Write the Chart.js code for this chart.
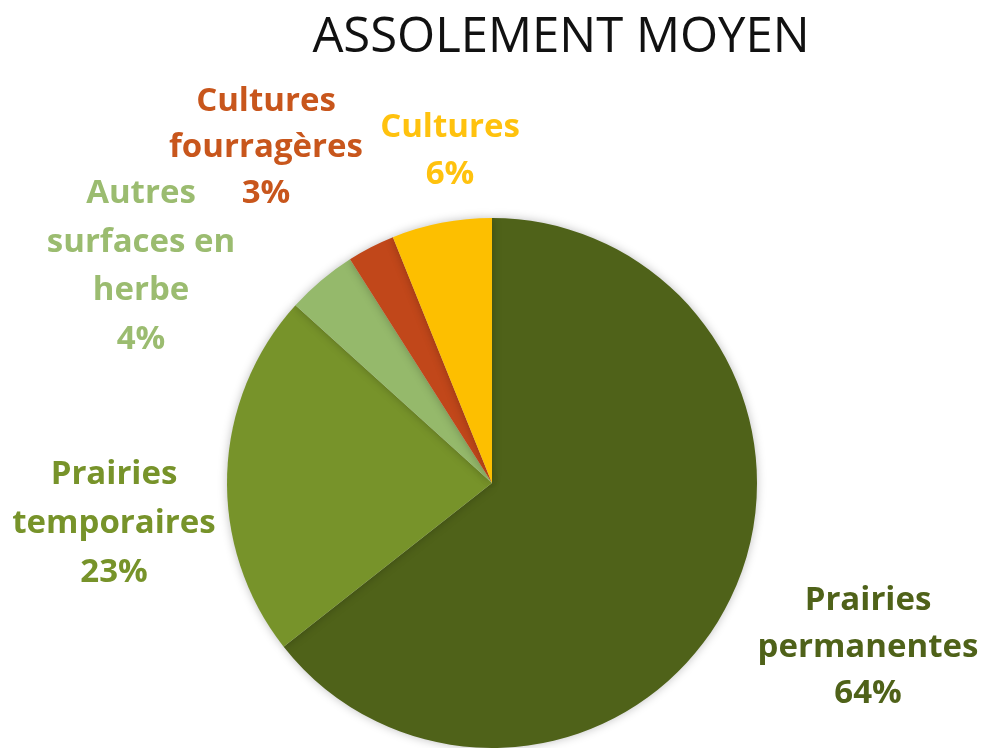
<!DOCTYPE html>
<html lang="fr">
<head>
<meta charset="utf-8">
<title>Assolement moyen</title>
<script src="https://cdn.jsdelivr.net/npm/chart.js@4.4.1/dist/chart.umd.min.js"></script>
<style>
  html, body { margin: 0; padding: 0; background: #ffffff; }
  #wrap { width: 986px; height: 748px; }
</style>
</head>
<body>
<div id="wrap"><canvas id="pie" width="986" height="748"></canvas></div>
<script>
// Données (parts de la SAU, en %)
const categories = ['Prairies permanentes', 'Prairies temporaires', 'Autres surfaces en herbe', 'Cultures fourragères', 'Cultures'];
const shares = [64.4, 22.3, 4.3, 2.9, 6.1];
const shownPct = ['64%', '23%', '4%', '3%', '6%'];
const sliceColors = ['#4f6219', '#77932a', '#95b96b', '#c1471a', '#fdbf00'];
const labelColors = ['#4f6219', '#77932a', '#9bbc70', '#c8561c', '#ffc20e'];
// lignes de texte de chaque étiquette
const labelLines = [
  ['Prairies', 'permanentes'],
  ['Prairies', 'temporaires'],
  ['Autres', 'surfaces en', 'herbe'],
  ['Cultures', 'fourragères'],
  ['Cultures']
];
// position (centre x, ligne de base de la 1re ligne) et interligne
const labelPos = [
  { x: 868, y: 610, lh: 46.5 },
  { x: 114, y: 484, lh: 49 },
  { x: 141, y: 203, lh: 48.5 },
  { x: 266, y: 111, lh: 46 },
  { x: 450, y: 137, lh: 47 }
];

const FONT = '"Open Sans", "Liberation Sans", sans-serif';

// titre + étiquettes dessinés à la main
const labelsPlugin = {
  id: 'labels',
  afterDraw(chart) {
    const ctx = chart.ctx;
    ctx.save();
    ctx.textAlign = 'center';
    ctx.textBaseline = 'alphabetic';
    ctx.fillStyle = '#111111';
    ctx.font = '400 49px ' + FONT;
    ctx.fillText('ASSOLEMENT MOYEN', 561, 52);

    ctx.font = '700 33px ' + FONT;
    categories.forEach(function (_c, i) {
      const p = labelPos[i];
      const lines = labelLines[i].concat([shownPct[i]]);
      ctx.fillStyle = labelColors[i];
      lines.forEach(function (t, k) {
        ctx.fillText(t, p.x, p.y + k * p.lh);
      });
    });
    ctx.restore();
  }
};

// ombre légère sous le camembert
const shadowPlugin = {
  id: 'pieShadow',
  beforeDatasetsDraw(chart) {
    const ctx = chart.ctx;
    ctx.save();
    ctx.shadowColor = 'rgba(0,0,0,0.25)';
    ctx.shadowBlur = 10;
    ctx.shadowOffsetX = 0;
    ctx.shadowOffsetY = 0;
  },
  afterDatasetsDraw(chart) {
    chart.ctx.restore();
  }
};

new Chart(document.getElementById('pie'), {
  type: 'pie',
  data: {
    labels: categories,
    datasets: [{
      data: shares,
      backgroundColor: sliceColors,
      borderWidth: 0
    }]
  },
  options: {
    responsive: false,
    animation: false,
    rotation: 0,
    layout: { padding: { top: 218, bottom: 0, left: 227, right: 229 } },
    plugins: {
      legend: { display: false },
      tooltip: { enabled: false },
      title: { display: false }
    }
  },
  plugins: [shadowPlugin, labelsPlugin]
});
</script>
</body>
</html>
